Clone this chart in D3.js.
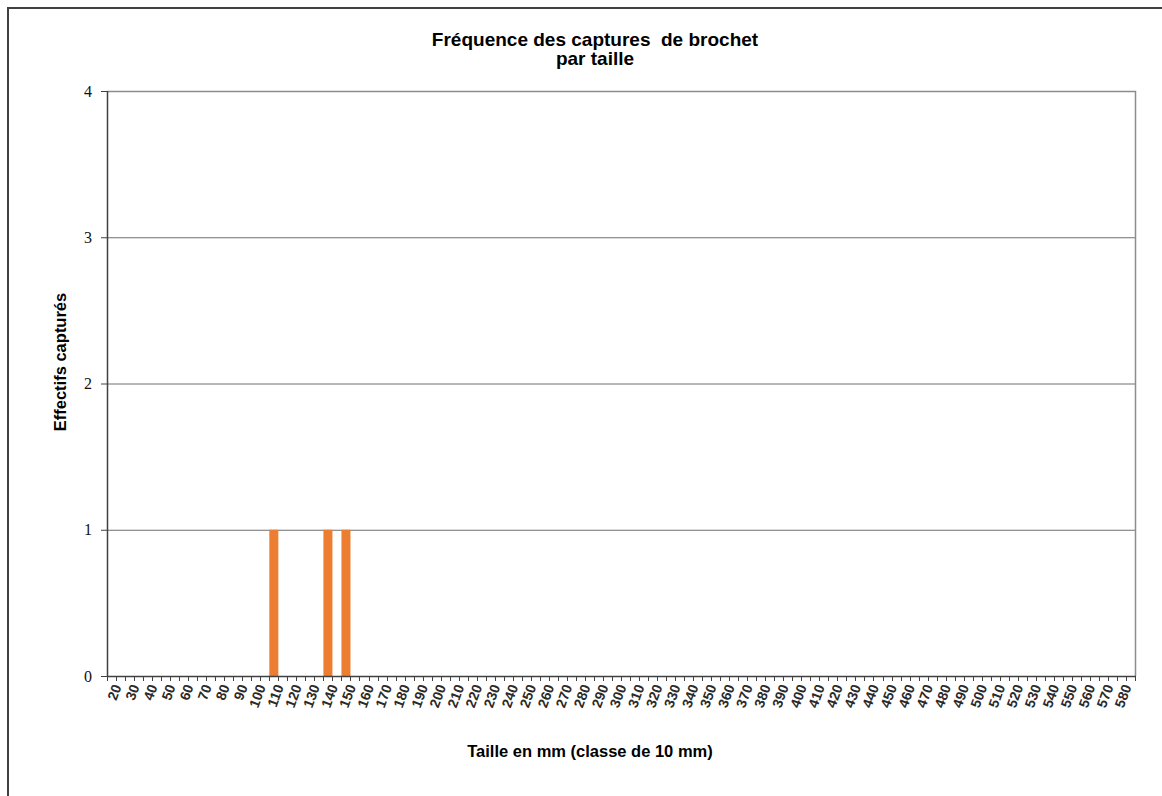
<!DOCTYPE html>
<html>
<head>
<meta charset="utf-8">
<script src="https://cdn.jsdelivr.net/npm/d3@7"></script>
<style>
  html, body { margin: 0; padding: 0; background: #fff; }
  svg { display: block; }
</style>
</head>
<body>
<svg id="chart" width="1162" height="796"></svg>
<script>
// Size classes (mm, 10 mm bins)
const sizeClasses = [20, 30, 40, 50, 60, 70, 80, 90, 100, 110, 120, 130, 140, 150, 160, 170, 180, 190, 200,
  210, 220, 230, 240, 250, 260, 270, 280, 290, 300, 310, 320, 330, 340, 350, 360, 370, 380, 390, 400,
  410, 420, 430, 440, 450, 460, 470, 480, 490, 500, 510, 520, 530, 540, 550, 560, 570, 580];

// Number of pike caught in each class
const catches = [0, 0, 0, 0, 0, 0, 0, 0, 0, 1, 0, 0, 1, 1, 0, 0, 0, 0, 0,
  0, 0, 0, 0, 0, 0, 0, 0, 0, 0, 0, 0, 0, 0, 0, 0, 0, 0, 0, 0,
  0, 0, 0, 0, 0, 0, 0, 0, 0, 0, 0, 0, 0, 0, 0, 0, 0, 0];

const yTicks = [0, 1, 2, 3, 4];

const titleLines = ["Fréquence des captures  de brochet", "par taille"];
const yTitle = "Effectifs capturés";
const xTitle = "Taille en mm (classe de 10 mm)";

const svg = d3.select("#chart");
const plot = { left: 107, top: 91, right: 1135, bottom: 676 };
const sans = "'Liberation Sans', Arial, sans-serif";

// Outer chart frame (its right and bottom edges run past the page)
svg.append("rect")
  .attr("x", 8).attr("y", 8)
  .attr("width", 1200).attr("height", 820)
  .attr("fill", "#fff")
  .attr("stroke", "#404040")
  .attr("stroke-width", 2);

const x = d3.scaleBand()
  .domain(sizeClasses)
  .range([plot.left, plot.right])
  .padding(0);

const y = d3.scaleLinear()
  .domain([0, 4])
  .range([plot.bottom, plot.top]);

// Horizontal gridlines
svg.append("g")
  .selectAll("line")
  .data(yTicks.filter(t => t > 0 && t < 4))
  .join("line")
  .attr("x1", plot.left).attr("x2", plot.right)
  .attr("y1", d => y(d) + 0.5).attr("y2", d => y(d) + 0.5)
  .attr("stroke", "#6f6f6f")
  .attr("stroke-width", 1);

// Plot area border (top and right)
svg.append("path")
  .attr("d", `M${plot.left},${plot.top + 0.5}H${plot.right + 0.5}V${plot.bottom}`)
  .attr("fill", "none")
  .attr("stroke", "#8c8c8c")
  .attr("stroke-width", 1.5);

// Bars: each occupies the left half of its class slot
svg.append("g")
  .selectAll("rect")
  .data(sizeClasses.map((c, i) => ({ c, v: catches[i] })).filter(d => d.v > 0))
  .join("rect")
  .attr("x", d => x(d.c))
  .attr("y", d => y(d.v))
  .attr("width", x.bandwidth() / 2)
  .attr("height", d => y(0) - y(d.v))
  .attr("fill", "#ed7d31");

// Y axis
const yAxis = svg.append("g");
yAxis.append("line")
  .attr("x1", plot.left + 0.5).attr("x2", plot.left + 0.5)
  .attr("y1", plot.top).attr("y2", plot.bottom)
  .attr("stroke", "#404040").attr("stroke-width", 1.5);
yAxis.selectAll("line.tick")
  .data(yTicks)
  .join("line")
  .attr("class", "tick")
  .attr("x1", plot.left - 6).attr("x2", plot.left)
  .attr("y1", d => y(d) + 0.5).attr("y2", d => y(d) + 0.5)
  .attr("stroke", "#404040").attr("stroke-width", 1);
yAxis.selectAll("text")
  .data(yTicks)
  .join("text")
  .attr("x", plot.left - 15)
  .attr("y", d => y(d))
  .attr("dy", "0.35em")
  .attr("text-anchor", "end")
  .attr("font-family", "'Liberation Serif', 'Times New Roman', serif")
  .attr("font-size", 16)
  .attr("fill", "#111")
  .text(d => d);

// X axis
const xAxis = svg.append("g");
xAxis.append("line")
  .attr("x1", plot.left).attr("x2", plot.right + 1)
  .attr("y1", plot.bottom + 0.5).attr("y2", plot.bottom + 0.5)
  .attr("stroke", "#404040").attr("stroke-width", 1.5);
// Tick marks at class boundaries and class centres
const tickPos = [];
sizeClasses.forEach(c => { tickPos.push(x(c)); tickPos.push(x(c) + x.bandwidth() / 2); });
tickPos.push(plot.right);
xAxis.selectAll("line.tick")
  .data(tickPos)
  .join("line")
  .attr("class", "tick")
  .attr("x1", d => Math.round(d) + 0.5).attr("x2", d => Math.round(d) + 0.5)
  .attr("y1", plot.bottom).attr("y2", plot.bottom + 5)
  .attr("stroke", "#404040").attr("stroke-width", 1);
xAxis.selectAll("text")
  .data(sizeClasses)
  .join("text")
  .attr("transform", d => `translate(${x(d) + x.bandwidth() / 2 + 1},${plot.bottom + 9}) rotate(-70)`)
  .attr("dy", "0.35em")
  .attr("text-anchor", "end")
  .attr("font-family", sans)
  .attr("font-weight", "bold")
  .attr("font-size", 14)
  .attr("fill", "#2a2a2a")
  .text(d => d);

// Titles
svg.append("text")
  .attr("x", 595).attr("y", 46)
  .attr("text-anchor", "middle")
  .attr("font-family", sans)
  .attr("font-weight", "bold")
  .attr("font-size", 19)
  .attr("fill", "#000")
  .selectAll("tspan")
  .data(titleLines)
  .join("tspan")
  .attr("x", 595)
  .attr("dy", (d, i) => i === 0 ? 0 : 19)
  .attr("xml:space", "preserve")
  .style("white-space", "pre")
  .text(d => d);

svg.append("text")
  .attr("transform", "translate(66,362) rotate(-90)")
  .attr("text-anchor", "middle")
  .attr("font-family", sans)
  .attr("font-weight", "bold")
  .attr("font-size", 16.5)
  .attr("fill", "#000")
  .text(yTitle);

svg.append("text")
  .attr("x", 590).attr("y", 757)
  .attr("text-anchor", "middle")
  .attr("font-family", sans)
  .attr("font-weight", "bold")
  .attr("font-size", 16.5)
  .attr("fill", "#000")
  .text(xTitle);
</script>
</body>
</html>
